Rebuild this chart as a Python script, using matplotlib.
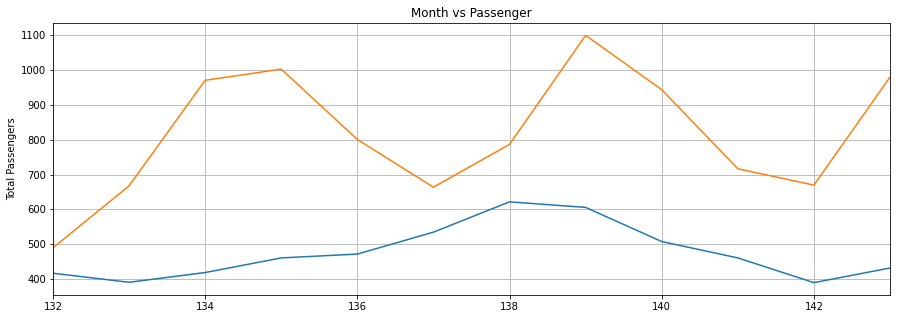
import numpy as np
import matplotlib.pyplot as plt

# Monthly values
months = np.arange(132, 144)
actual = [417, 391, 419, 461, 472, 535, 622, 606, 508, 461, 390, 432]
predicted = [490, 668, 971, 1003, 801, 664, 787, 1100, 944, 717, 670, 980]

fig = plt.figure(figsize=(897 / 72, 319 / 72), dpi=72)
ax = fig.add_axes([53 / 897, 24 / 319, 837 / 897, 272 / 319])

ax.plot(months, actual, color='#1f77b4')
ax.plot(months, predicted, color='#ff7f0e')
ax.set_xlim(132, 143)
ax.set_xticks(np.arange(132, 143, 2))
ax.set_title('Month vs Passenger')
ax.set_ylabel('Total Passengers')
ax.grid(True)

fig.savefig('out.png', dpi=72)
